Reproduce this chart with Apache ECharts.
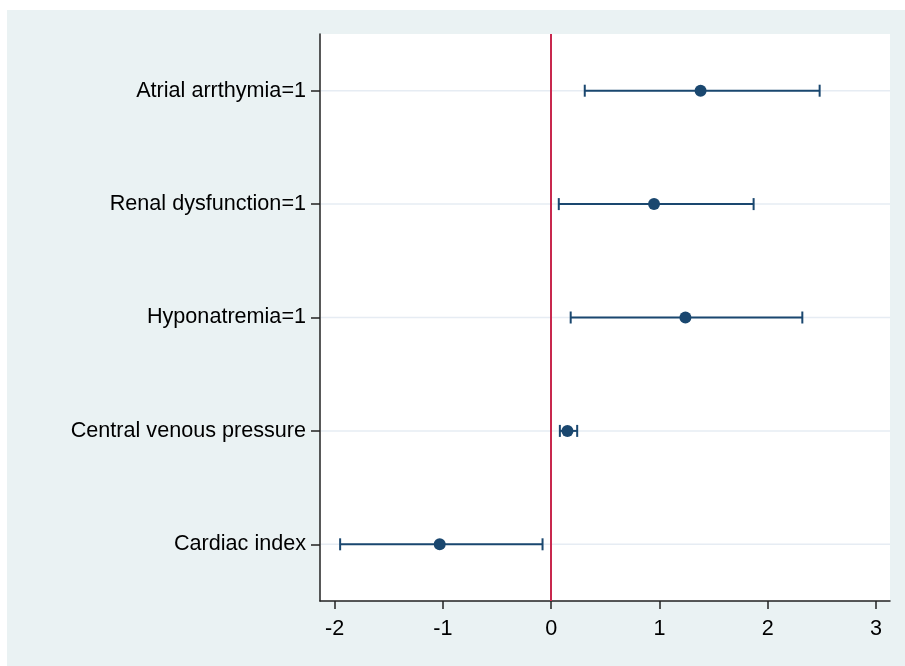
<!DOCTYPE html>
<html>
<head>
<meta charset="utf-8">
<script src="https://cdn.jsdelivr.net/npm/echarts@6/dist/echarts.min.js"></script>
<style>
html,body{margin:0;padding:0;background:#fff;}
#chart{width:905px;height:666px;}
</style>
</head>
<body>
<div id="chart"></div>
<script>
// Categories listed bottom to top
const categories = ['Cardiac index', 'Central venous pressure', 'Hyponatremia=1', 'Renal dysfunction=1', 'Atrial arrthymia=1'];
const estimates = [-1.03, 0.15, 1.24, 0.95, 1.38];
const lowerCI   = [-1.95, 0.08, 0.18, 0.07, 0.31];
const upperCI   = [-0.08, 0.24, 2.32, 1.87, 2.48];
const xTicks = [-2, -1, 0, 1, 2, 3];

const navy = '#1a476f';
const font = 'Liberation Sans, Arial, Helvetica, sans-serif';
const chart = echarts.init(document.getElementById('chart'));

const ciData = categories.map((c, i) => [i, lowerCI[i], upperCI[i]]);
const pointData = categories.map((c, i) => [estimates[i], i]);
const gridData = categories.map((c, i) => [i]);

const option = {
  animation: false,
  backgroundColor: '#ffffff',
  graphic: [{
    type: 'rect', z: -10, silent: true,
    shape: { x: 7, y: 10, width: 898, height: 656 },
    style: { fill: '#eaf2f3' }
  }],
  grid: { left: 320, right: 15, top: 34, bottom: 65, show: true, backgroundColor: '#ffffff', borderWidth: 0 },
  xAxis: {
    type: 'value', min: -2.136, max: 3.13,
    axisLine: { show: true, onZero: false, lineStyle: { color: '#222', width: 1.5 } },
    axisTick: { show: true, length: 8, lineStyle: { color: '#222', width: 1.5 }, customValues: xTicks },
    axisLabel: { color: '#000', fontSize: 21.6, fontFamily: font, margin: 17, customValues: xTicks, formatter: v => String(v) },
    splitLine: { show: false }
  },
  yAxis: {
    type: 'category', data: categories, boundaryGap: true,
    axisLine: { show: true, onZero: false, lineStyle: { color: '#222', width: 1.5 } },
    axisTick: { show: true, alignWithLabel: true, length: 9, lineStyle: { color: '#222', width: 1.5 } },
    axisLabel: { color: '#000', fontSize: 21.6, fontFamily: font, margin: 14 },
    splitLine: { show: false }
  },
  series: [
    {
      type: 'custom', z: 1, silent: true,
      data: gridData,
      encode: { y: 0 },
      renderItem: function (params, api) {
        const y = api.coord([0, api.value(0)])[1];
        const cs = params.coordSys;
        return { type: 'line', shape: { x1: cs.x + 1, y1: y, x2: cs.x + cs.width, y2: y }, style: { stroke: '#e6ecf3', lineWidth: 1.5 } };
      }
    },
    {
      type: 'custom', z: 3, silent: true,
      data: ciData,
      encode: { y: 0, x: [1, 2] },
      renderItem: function (params, api) {
        const cat = api.value(0);
        const p1 = api.coord([api.value(1), cat]);
        const p2 = api.coord([api.value(2), cat]);
        const h = 6;
        const st = { stroke: navy, lineWidth: 2 };
        return {
          type: 'group',
          children: [
            { type: 'line', shape: { x1: p1[0], y1: p1[1], x2: p2[0], y2: p2[1] }, style: st },
            { type: 'line', shape: { x1: p1[0], y1: p1[1] - h, x2: p1[0], y2: p1[1] + h }, style: st },
            { type: 'line', shape: { x1: p2[0], y1: p2[1] - h, x2: p2[0], y2: p2[1] + h }, style: st }
          ]
        };
      }
    },
    {
      type: 'scatter', z: 4,
      data: pointData,
      symbol: 'circle', symbolSize: 12,
      itemStyle: { color: navy, opacity: 1 },
      markLine: {
        silent: true, symbol: 'none', label: { show: false },
        lineStyle: { color: '#c8284e', width: 2, type: 'solid' },
        data: [{ xAxis: 0 }]
      }
    }
  ]
};
chart.setOption(option);
</script>
</body>
</html>
